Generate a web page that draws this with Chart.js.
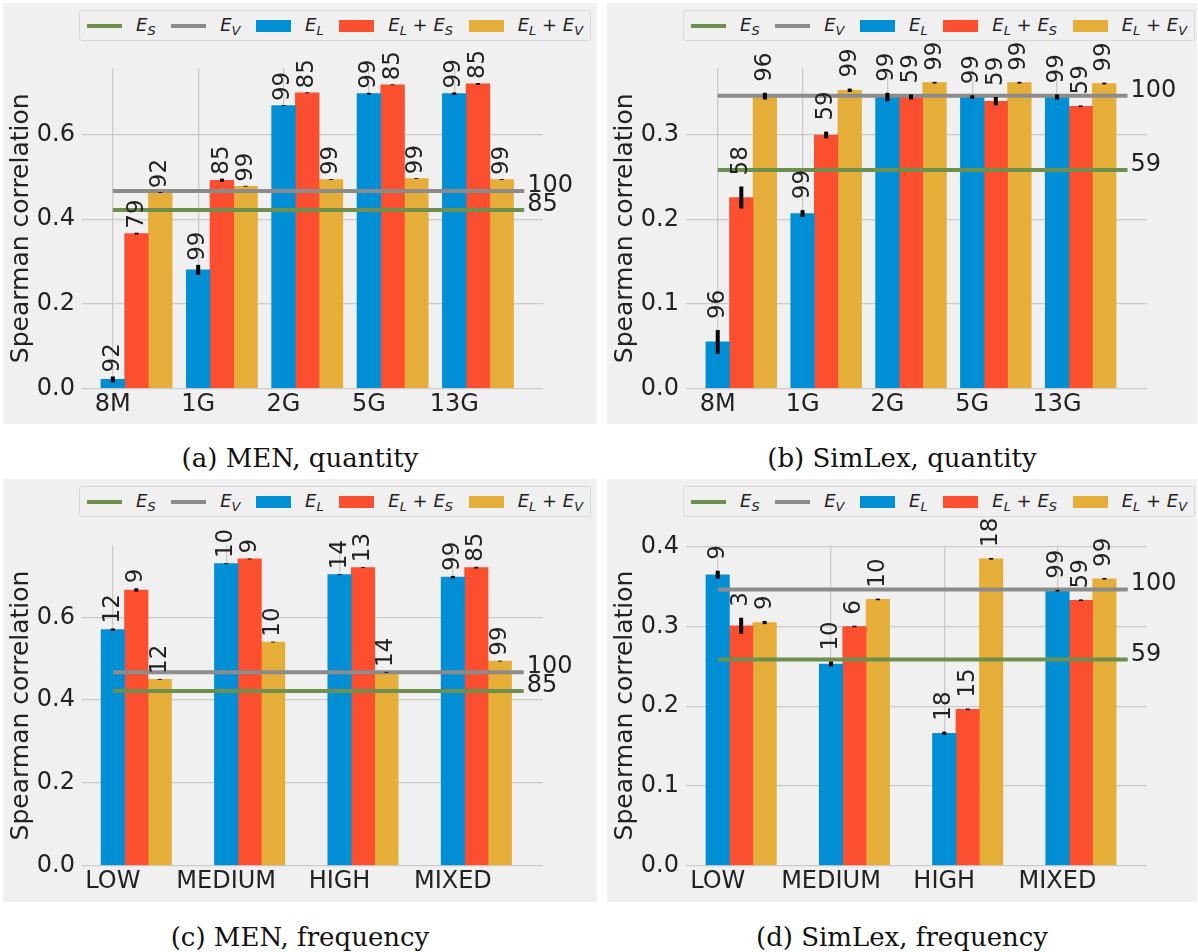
<!DOCTYPE html>
<html>
<head>
<meta charset="utf-8">
<title>Spearman correlation by corpus size and frequency</title>
<script src="https://cdn.jsdelivr.net/npm/chart.js@4.4.1/dist/chart.umd.min.js"></script>
<style>
  body { margin: 0; width: 1198px; height: 952px; background: #fff; position: relative; overflow: hidden; font-family: "DejaVu Sans", sans-serif; }
  .panel { position: absolute; background: #f0f0f0; }
  .panel canvas { position: absolute; left: 0; top: 0; }
  .legend { position: absolute; left: 76px; top: 7px; width: 512px; height: 31px; box-sizing: border-box; border: 1px solid #d8d8d8; border-radius: 3px;
            background: #f0f0f0; display: flex; align-items: center; justify-content: space-between; padding: 0 7px; font-size: 18px; color: #222; white-space: nowrap; }
  .legend .item { display: flex; align-items: center; }
  .legend .line { width: 35px; height: 4px; margin-right: 14px; }
  .legend .patch { width: 35px; height: 12px; margin-right: 14px; }
  .legend sub { font-size: 0.72em; vertical-align: -0.3em; }
  .caption { position: absolute; text-align: center; font-family: "DejaVu Serif", serif; font-size: 26px; line-height: 30px; color: #111; }
</style>
</head>
<body>
<div class="panel" style="left:3px;top:3px;width:594px;height:421px"><canvas id="menQty" width="594" height="421"></canvas></div>
<div class="panel" style="left:607px;top:3px;width:590px;height:421px"><canvas id="simQty" width="590" height="421"></canvas></div>
<div class="panel" style="left:3px;top:479px;width:594px;height:423px"><canvas id="menFreq" width="594" height="423"></canvas></div>
<div class="panel" style="left:607px;top:479px;width:590px;height:423px"><canvas id="simFreq" width="590" height="423"></canvas></div>
<div class="caption" style="left:3px;top:443px;width:594px">(a) MEN, quantity</div>
<div class="caption" style="left:607px;top:443px;width:590px">(b) SimLex, quantity</div>
<div class="caption" style="left:3px;top:922px;width:594px">(c) MEN, frequency</div>
<div class="caption" style="left:607px;top:922px;width:590px">(d) SimLex, frequency</div>
<script>
// categories
const quantityLabels = ['8M', '1G', '2G', '5G', '13G'];
const frequencyLabels = ['LOW', 'MEDIUM', 'HIGH', 'MIXED'];

// (a) MEN, quantity
const menQtyEL = [0.021, 0.280, 0.669, 0.697, 0.697];
const menQtyELES = [0.366, 0.492, 0.699, 0.718, 0.720];
const menQtyELEV = [0.463, 0.478, 0.494, 0.496, 0.494];
const menQtyErrEL = [0.007, 0.012, 0.001, 0.002, 0.003];
const menQtyErrELES = [0.002, 0.004, 0.001, 0.001, 0.002];
const menQtyErrELEV = [0.001, 0.001, 0.001, 0.001, 0.001];
const menQtyTagEL = ['92', '99', '99', '99', '99'];
const menQtyTagELES = ['79', '85', '85', '85', '85'];
const menQtyTagELEV = ['92', '99', '99', '99', '99'];

// (b) SimLex, quantity
const simQtyEL = [0.055, 0.207, 0.345, 0.345, 0.345];
const simQtyELES = [0.226, 0.300, 0.345, 0.340, 0.334];
const simQtyELEV = [0.346, 0.353, 0.362, 0.362, 0.361];
const simQtyErrEL = [0.014, 0.004, 0.005, 0.002, 0.003];
const simQtyErrELES = [0.013, 0.004, 0.003, 0.005, 0.001];
const simQtyErrELEV = [0.004, 0.002, 0.001, 0.001, 0.001];
const simQtyTagEL = ['96', '99', '99', '99', '99'];
const simQtyTagELES = ['58', '59', '59', '59', '59'];
const simQtyTagELEV = ['96', '99', '99', '99', '99'];

// (c) MEN, frequency
const menFreqEL = [0.570, 0.730, 0.703, 0.697];
const menFreqELES = [0.666, 0.741, 0.720, 0.720];
const menFreqELEV = [0.450, 0.540, 0.467, 0.494];
const menFreqErrEL = [0.003, 0.001, 0.001, 0.003];
const menFreqErrELES = [0.004, 0.001, 0.001, 0.002];
const menFreqErrELEV = [0.001, 0.001, 0.001, 0.001];
const menFreqTagEL = ['12', '10', '14', '99'];
const menFreqTagELES = ['9', '9', '13', '85'];
const menFreqTagELEV = ['12', '10', '14', '99'];

// (d) SimLex, frequency
const simFreqEL = [0.365, 0.253, 0.166, 0.345];
const simFreqELES = [0.301, 0.300, 0.196, 0.333];
const simFreqELEV = [0.305, 0.334, 0.385, 0.360];
const simFreqErrEL = [0.005, 0.003, 0.002, 0.001];
const simFreqErrELES = [0.010, 0.001, 0.001, 0.001];
const simFreqErrELEV = [0.002, 0.001, 0.001, 0.001];
const simFreqTagEL = ['9', '10', '18', '99'];
const simFreqTagELES = ['3', '6', '15', '59'];
const simFreqTagELEV = ['9', '10', '18', '99'];

// baselines (E_S, E_V) and their side labels
const menES = 0.422, menEV = 0.467, menESTag = '85', menEVTag = '100';
const simES = 0.2585, simEV = 0.3465, simESTag = '59', simEVTag = '100';

// y ticks
const menTicks = [0, 0.2, 0.4, 0.6];
const simQtyTicks = [0, 0.1, 0.2, 0.3];
const simFreqTicks = [0, 0.1, 0.2, 0.3, 0.4];

const BLUE = '#008fd5', RED = '#fc4f30', YELLOW = '#e5ae38', GREEN = '#6d904f', GRAY = '#8b8b8b';
const TEXT = '#222';

Chart.defaults.font.family = '"DejaVu Sans", sans-serif';

// error bars, rotated bar labels and the labels at the end of the baselines
const annotate = {
  id: 'annotate',
  afterDatasetsDraw(chart, args, opts) {
    const { ctx } = chart;
    const y = chart.scales.y;
    ctx.save();
    ctx.fillStyle = TEXT;
    chart.data.datasets.forEach((ds, di) => {
      const meta = chart.getDatasetMeta(di);
      if (ds.type === 'bar') {
        ctx.font = '23px "DejaVu Sans"';
        meta.data.forEach((el, i) => {
          const v = ds.data[i].y, e = ds.errors[i];
          const top = y.getPixelForValue(v + e);
          const bot = y.getPixelForValue(v - e);
          ctx.strokeStyle = '#000';
          ctx.lineWidth = 4;
          ctx.beginPath();
          ctx.moveTo(el.x, top);
          ctx.lineTo(el.x, bot);
          ctx.stroke();
          ctx.save();
          ctx.translate(el.x, top - opts.gap);
          ctx.rotate(-Math.PI / 2);
          ctx.textAlign = 'left';
          ctx.textBaseline = 'middle';
          ctx.fillText(ds.tags[i], 0, 0);
          ctx.restore();
        });
      } else {
        ctx.font = '24px "DejaVu Sans"';
        const end = meta.data[meta.data.length - 1];
        ctx.textAlign = 'left';
        ctx.textBaseline = 'alphabetic';
        ctx.fillText(ds.tag, end.x + 3, end.y + 1);
      }
    });
    ctx.restore();
  }
};

function buildChart(id, p) {
  const bar = (vals, errs, tags, color, k) => ({
    type: 'bar',
    data: vals.map((v, i) => ({ x: i + k * p.barW, y: v })),
    backgroundColor: color,
    borderWidth: 0,
    grouped: false,
    barPercentage: 1,
    categoryPercentage: 1,
    errors: errs,
    tags: tags,
    order: 1
  });
  const hline = (v, tag, color) => ({
    type: 'line',
    data: [{ x: 0, y: v }, { x: p.lineEnd, y: v }],
    borderColor: color,
    borderWidth: 4,
    pointRadius: 0,
    tag: tag,
    order: 0
  });
  const canvas = document.getElementById(id);
  new Chart(canvas, {
    data: {
      datasets: [
        hline(p.es, p.esTag, GREEN),
        hline(p.ev, p.evTag, GRAY),
        bar(p.el, p.errEl, p.tagEl, BLUE, 0),
        bar(p.eles, p.errEles, p.tagEles, RED, 1),
        bar(p.elev, p.errElev, p.tagElev, YELLOW, 2)
      ]
    },
    options: {
      responsive: false,
      animation: false,
      devicePixelRatio: 1,
      layout: { padding: { top: p.top, right: canvas.width - 540, left: 0, bottom: 0 } },
      plugins: { legend: { display: false }, tooltip: { enabled: false }, annotate: { gap: p.gap } },
      scales: {
        x: {
          type: 'linear',
          offset: false,
          min: p.xMin,
          max: p.xMax,
          afterBuildTicks: s => { s.ticks = p.labels.map((_, i) => ({ value: i })); },
          afterFit: s => { s.height = canvas.height - p.top - 320; },
          ticks: { callback: v => p.labels[v], autoSkip: false, maxRotation: 0, padding: 2, color: TEXT, font: { size: 24 } },
          grid: { offset: false, color: '#cbcbcb', lineWidth: 1.3, drawTicks: false },
          border: { display: false }
        },
        y: {
          min: 0,
          max: p.yMax,
          afterBuildTicks: s => { s.ticks = p.yTicks.map(v => ({ value: v })); },
          afterFit: s => { s.width = 79; },
          ticks: { callback: v => v.toFixed(1), padding: 7, color: TEXT, font: { size: 24 } },
          grid: { color: '#cbcbcb', lineWidth: 1.3, drawTicks: false },
          border: { display: false },
          title: { display: true, text: 'Spearman correlation', color: TEXT, font: { size: 25 }, padding: { top: 3, bottom: 0 } }
        }
      }
    },
    plugins: [annotate]
  });

  // legend with subscripted names, drawn as html on top of the panel
  const items = [
    ['line', GREEN, '<i>E<sub>S</sub></i>'],
    ['line', GRAY, '<i>E<sub>V</sub></i>'],
    ['patch', BLUE, '<i>E<sub>L</sub></i>'],
    ['patch', RED, '<i>E<sub>L</sub></i> + <i>E<sub>S</sub></i>'],
    ['patch', YELLOW, '<i>E<sub>L</sub></i> + <i>E<sub>V</sub></i>']
  ];
  const legend = document.createElement('div');
  legend.className = 'legend';
  legend.innerHTML = items.map(([kind, color, html]) =>
    `<span class="item"><span class="${kind}" style="background:${color}"></span><span>${html}</span></span>`).join('');
  canvas.parentNode.appendChild(legend);
}

buildChart('menQty', {
  labels: quantityLabels, el: menQtyEL, eles: menQtyELES, elev: menQtyELEV,
  errEl: menQtyErrEL, errEles: menQtyErrELES, errElev: menQtyErrELEV,
  tagEl: menQtyTagEL, tagEles: menQtyTagELES, tagElev: menQtyTagELEV,
  es: menES, ev: menEV, esTag: menESTag, evTag: menEVTag,
  yMax: 0.757, yTicks: menTicks, xMin: -0.361, xMax: 5.04, lineEnd: 4.82, barW: 0.278, top: 65.3, gap: 4
});
buildChart('simQty', {
  labels: quantityLabels, el: simQtyEL, eles: simQtyELES, elev: simQtyELEV,
  errEl: simQtyErrEL, errEles: simQtyErrELES, errElev: simQtyErrELEV,
  tagEl: simQtyTagEL, tagEles: simQtyTagELES, tagElev: simQtyTagELEV,
  es: simES, ev: simEV, esTag: simESTag, evTag: simEVTag,
  yMax: 0.379, yTicks: simQtyTicks, xMin: -0.374, xMax: 5.06, lineEnd: 4.83, barW: 0.278, top: 65.3, gap: 11
});
buildChart('menFreq', {
  labels: frequencyLabels, el: menFreqEL, eles: menFreqELES, elev: menFreqELEV,
  errEl: menFreqErrEL, errEles: menFreqErrELES, errElev: menFreqErrELEV,
  tagEl: menFreqTagEL, tagEles: menFreqTagELES, tagElev: menFreqTagELEV,
  es: menES, ev: menEV, esTag: menESTag, evTag: menEVTag,
  yMax: 0.7735, yTicks: menTicks, xMin: -0.272, xMax: 3.795, lineEnd: 3.625, barW: 0.207, top: 66.5, gap: 5
});
buildChart('simFreq', {
  labels: frequencyLabels, el: simFreqEL, eles: simFreqELES, elev: simFreqELEV,
  errEl: simFreqErrEL, errEles: simFreqErrELES, errElev: simFreqErrELEV,
  tagEl: simFreqTagEL, tagEles: simFreqTagELES, tagElev: simFreqTagELEV,
  es: simES, ev: simEV, esTag: simESTag, evTag: simEVTag,
  yMax: 0.4017, yTicks: simFreqTicks, xMin: -0.28, xMax: 3.79, lineEnd: 3.62, barW: 0.207, top: 66.5, gap: 11
});
</script>
</body>
</html>
